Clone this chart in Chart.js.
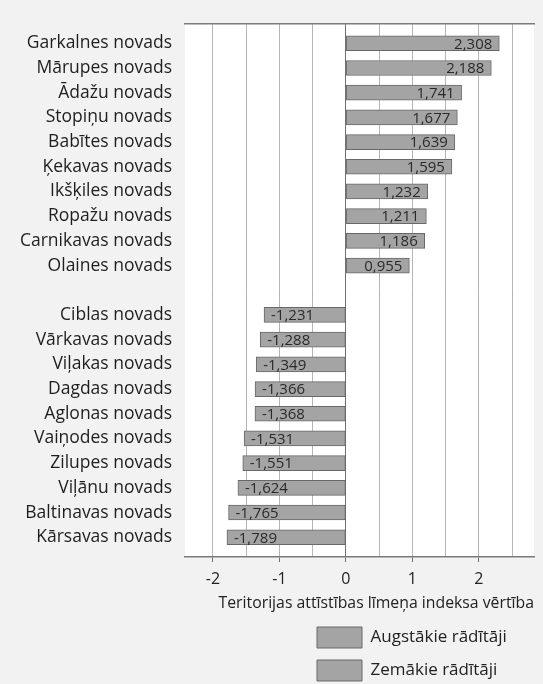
<!DOCTYPE html>
<html lang="lv">
<head>
<meta charset="utf-8">
<title>Teritorijas attīstības līmeņa indekss</title>
<script src="https://cdn.jsdelivr.net/npm/chart.js@4.4.1/dist/chart.umd.min.js"></script>
<style>
  html, body { margin: 0; padding: 0; background: #f2f2f2; }
  canvas { display: block; }
</style>
</head>
<body>
<canvas id="grafiks" width="543" height="684"></canvas>
<script>
// Novadi ar augstākajiem un zemākajiem rādītājiem
const augstakieNovadi = ["Garkalnes novads", "Mārupes novads", "Ādažu novads", "Stopiņu novads", "Babītes novads",
    "Ķekavas novads", "Ikšķiles novads", "Ropažu novads", "Carnikavas novads", "Olaines novads"];
const augstakieVertibas = [2.308, 2.188, 1.741, 1.677, 1.639, 1.595, 1.232, 1.211, 1.186, 0.955];

const zemakieNovadi = ["Ciblas novads", "Vārkavas novads", "Viļakas novads", "Dagdas novads", "Aglonas novads",
    "Vaiņodes novads", "Zilupes novads", "Viļānu novads", "Baltinavas novads", "Kārsavas novads"];
const zemakieVertibas = [-1.231, -1.288, -1.349, -1.366, -1.368, -1.531, -1.551, -1.624, -1.765, -1.789];

// Rindas: augstākie, tukša rinda, zemākie
const visiNovadi = [...augstakieNovadi, "", ...zemakieNovadi];
const zemakoSakums = augstakieNovadi.length + 1;

const asuTeksts = "Teritorijas attīstības līmeņa indeksa vērtība";
const legendaTeksti = ["Augstākie rādītāji", "Zemākie rādītāji"];

const X_MIN = -2.42, X_MAX = 2.83;

Chart.defaults.font.family = "'Open Sans', 'Noto Sans', sans-serif";
Chart.defaults.color = "#222";

// Balts fons zīmēšanas laukumam
const fonaSpraudnis = {
    id: "fons",
    beforeDraw(chart) {
        const { ctx, chartArea: a } = chart;
        ctx.save();
        ctx.fillStyle = "#ffffff";
        ctx.fillRect(a.left, a.top, a.right - a.left, a.bottom - a.top);
        ctx.restore();
    }
};

// Leģenda apakšā labajā pusē, viena zem otras
const legendasVieta = {
    id: "legendasVieta",
    afterLayout(chart) {
        const l = chart.legend;
        if (!l) return;
        l.left = 305;
        l.right = 543;
        l.top = 615;
        l.bottom = 720;
    }
};

// Vērtības uz stabiņiem
const vertibuSpraudnis = {
    id: "vertibas",
    afterDatasetsDraw(chart) {
        const ctx = chart.ctx;
        ctx.save();
        ctx.font = "15px 'Open Sans', sans-serif";
        ctx.fillStyle = "#2a2a2a";
        ctx.textBaseline = "middle";
        chart.data.datasets.forEach((ds, i) => {
            chart.getDatasetMeta(i).data.forEach((bar, j) => {
                const v = ds.data[j].x;
                const teksts = v.toFixed(3).replace(".", ",");
                if (v >= 0) {
                    ctx.textAlign = "right";
                    ctx.fillText(teksts, bar.x - 7, bar.y + 1);
                } else {
                    ctx.textAlign = "left";
                    ctx.fillText(teksts, bar.x + 7, bar.y + 1);
                }
            });
        });
        ctx.restore();
    }
};

const stabinuStils = {
    backgroundColor: "#a4a4a4",
    borderColor: "#686868",
    borderWidth: 1,
    borderSkipped: false,
    barThickness: 15
};

new Chart(document.getElementById("grafiks"), {
    type: "bar",
    data: {
        datasets: [
            {
                label: legendaTeksti[0],
                data: augstakieVertibas.map((v, i) => ({ x: v, y: i })),
                ...stabinuStils
            },
            {
                label: legendaTeksti[1],
                data: zemakieVertibas.map((v, i) => ({ x: v, y: zemakoSakums + i })),
                ...stabinuStils
            }
        ]
    },
    options: {
        indexAxis: "y",
        responsive: false,
        animation: false,
        layout: { padding: { top: 23, right: 9, bottom: 57, left: 0 } },
        plugins: {
            legend: {
                position: "chartArea",
                align: "start",
                labels: {
                    boxWidth: 45,
                    boxHeight: 21,
                    padding: 12,
                    color: "#222",
                    font: { size: 17 }
                }
            },
            tooltip: { enabled: false }
        },
        scales: {
            x: {
                type: "linear",
                position: "bottom",
                stacked: true,
                min: X_MIN,
                max: X_MAX,
                afterFit(scale) { scale.height = 70; },
                ticks: {
                    stepSize: 0.5,
                    includeBounds: false,
                    autoSkip: false,
                    maxTicksLimit: 30,
                    maxRotation: 0,
                    padding: 8,
                    color: "#222",
                    font: { size: 16 },
                    callback: (v) => Number.isInteger(v) ? String(v) : ""
                },
                grid: {
                    color: (c) => (c.tick && c.tick.value === 0) ? "#707070" : "#b5b5b5",
                    lineWidth: 1,
                    tickLength: 5,
                    tickColor: (c) => (c.tick && Number.isInteger(c.tick.value)) ? "#707070" : "rgba(0,0,0,0)"
                },
                border: { display: true, color: "#7a7a7a", width: 1.5 },
                title: {
                    display: true,
                    text: asuTeksts,
                    align: "end",
                    color: "#222",
                    font: { size: 15.8 },
                    padding: { top: 2, bottom: 14 }
                }
            },
            xAugsa: {
                type: "linear",
                position: "top",
                axis: "x",
                min: X_MIN,
                max: X_MAX,
                ticks: { display: false },
                grid: { display: false, drawTicks: false, tickLength: 0 },
                border: { display: true, color: "#7a7a7a", width: 1.5 }
            },
            y: {
                type: "linear",
                stacked: true,
                offset: false,
                reverse: true,
                min: -0.8,
                max: visiNovadi.length - 0.2,
                afterFit(scale) { scale.width = 185; },
                ticks: {
                    stepSize: 1,
                    includeBounds: false,
                    autoSkip: false,
                    maxTicksLimit: 50,
                    padding: 13,
                    color: "#1e1e1e",
                    font: { size: 17.5 },
                    callback: (v) => visiNovadi[v] ?? ""
                },
                grid: { display: false, drawTicks: false },
                border: { display: false }
            }
        }
    },
    plugins: [fonaSpraudnis, legendasVieta, vertibuSpraudnis]
});
</script>
</body>
</html>
